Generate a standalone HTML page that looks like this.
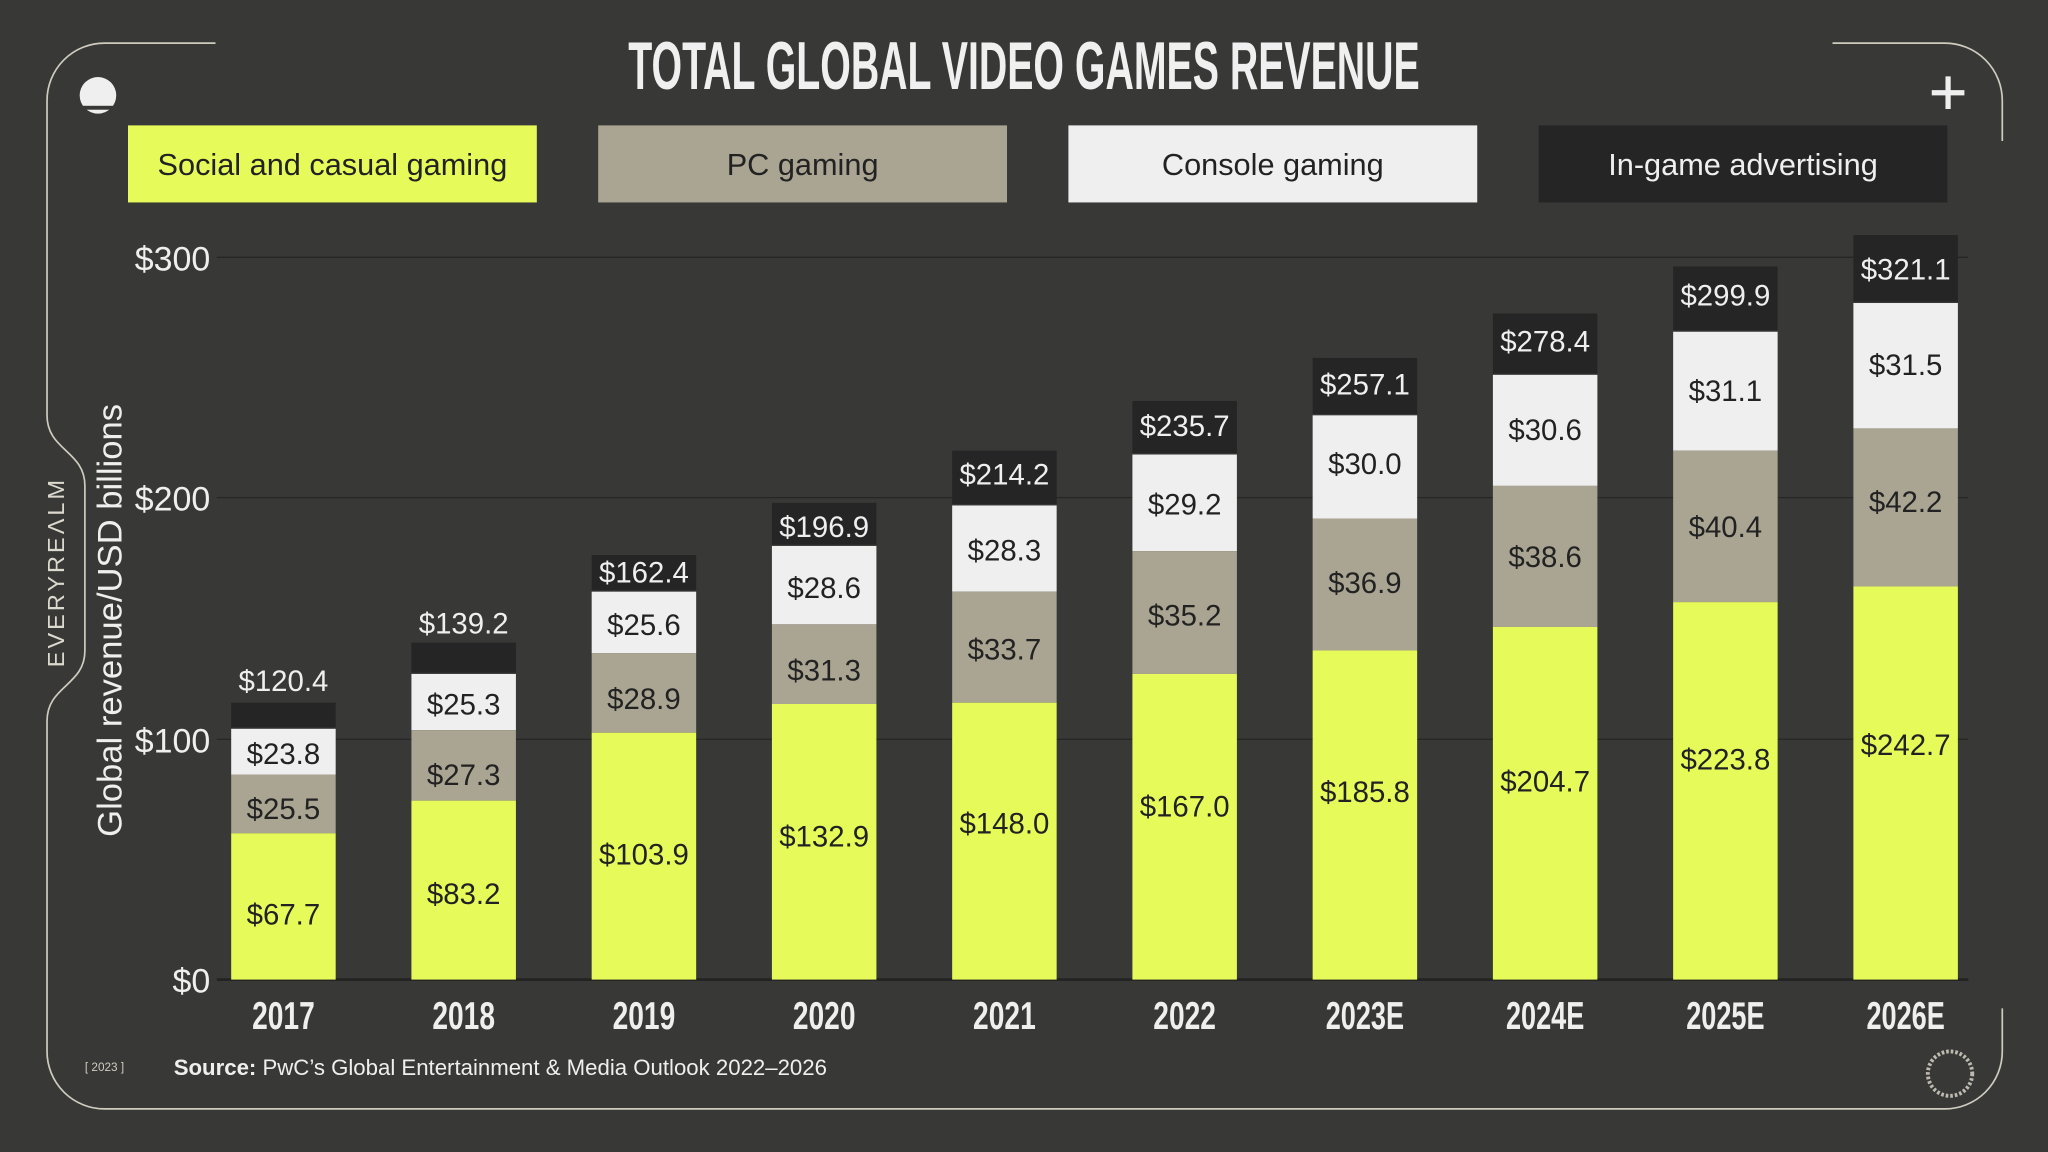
<!DOCTYPE html>
<html><head><meta charset="utf-8"><style>
html,body{margin:0;padding:0;background:#383838;}
svg{display:block}
</style></head><body>
<svg width="2048" height="1152" viewBox="0 0 1568 882" xmlns="http://www.w3.org/2000/svg" font-family="Liberation Sans, Arial, sans-serif">
<rect width="1568" height="882" fill="#383837"/>
<g fill="none" stroke="#cfccbf" stroke-width="1.3">
<path d="M165 33 H80 A44 44 0 0 0 36 77 V318 C36 345 65 345 65 372 V498 C65 525 36 525 36 552 V805 A44 44 0 0 0 80 849 H1489 A44 44 0 0 0 1533 805 V772"/>
<path d="M1403 33 H1489 A44 44 0 0 1 1533 77 V108"/>
</g>
<circle cx="75" cy="73" r="14" fill="#efefef"/>
<rect x="58" y="81" width="34" height="3" fill="#383837"/>
<path d="M1479 71 H1504 M1491.5 58.5 V83.5" stroke="#efefef" stroke-width="4"/>
<text x="784" y="68" text-anchor="middle" font-family="Liberation Sans Narrow, Liberation Sans, sans-serif" font-weight="bold" font-size="52" fill="#f0f0f0" textLength="606" lengthAdjust="spacingAndGlyphs">TOTAL GLOBAL VIDEO GAMES REVENUE</text>
<rect x="98" y="96" width="313" height="59" fill="#e6fb5a"/>
<text x="254.5" y="134" text-anchor="middle" font-size="23.5" fill="#222">Social and casual gaming</text>
<rect x="458" y="96" width="313" height="59" fill="#aaa592"/>
<text x="614.5" y="134" text-anchor="middle" font-size="23.5" fill="#222">PC gaming</text>
<rect x="818" y="96" width="313" height="59" fill="#efefef"/>
<text x="974.5" y="134" text-anchor="middle" font-size="23.5" fill="#222">Console gaming</text>
<rect x="1178" y="96" width="313" height="59" fill="#252525"/>
<text x="1334.5" y="134" text-anchor="middle" font-size="23.5" fill="#efefef">In-game advertising</text>
<g stroke="#262626" stroke-width="1">
<line x1="166" y1="197" x2="1507" y2="197"/>
<line x1="166" y1="381" x2="1507" y2="381"/>
<line x1="166" y1="566" x2="1507" y2="566"/>
</g>
<line x1="166" y1="750" x2="1507" y2="750" stroke="#222" stroke-width="2"/>
<g font-size="26" fill="#efefef" text-anchor="end">
<text x="161" y="207">$300</text>
<text x="161" y="391">$200</text>
<text x="161" y="576">$100</text>
<text x="161" y="760">$0</text>
</g>
<text transform="translate(93,475) rotate(-90)" text-anchor="middle" font-size="26.5" fill="#efefef">Global revenue/USD billions</text>
<text transform="translate(49,438) rotate(-90)" text-anchor="middle" font-size="18" letter-spacing="2.3" fill="#dcdacf">EVERYREΛLM</text>
<g id="bars" font-size="22.5" text-anchor="middle"></g>
<g font-family="Liberation Sans Narrow, Liberation Sans, sans-serif" font-weight="bold" font-size="30" fill="#efefef" text-anchor="middle" id="years"></g>
<text x="65" y="820" font-size="9" fill="#cfccbf">[ 2023 ]</text>
<text x="133" y="823" font-size="17" fill="#efefef"><tspan font-weight="bold">Source:</tspan> PwC’s Global Entertainment &amp; Media Outlook 2022–2026</text>
<circle cx="1493" cy="822" r="17" fill="none" stroke="#bdbab0" stroke-width="3" stroke-dasharray="2 1.5"/>
</svg>
<script>
const d=[
["2017",638,593,557,538,521,"$67.7","$25.5","$23.8","$120.4",700,619,577],
["2018",613,559,515,492,477,"$83.2","$27.3","$25.3","$139.2",684,593,539],
["2019",561,500,452,425,438,"$103.9","$28.9","$25.6","$162.4",654,535,478],
["2020",539,478,417,385,403,"$132.9","$31.3","$28.6","$196.9",640,513,450],
["2021",538,453,386,345,363,"$148.0","$33.7","$28.3","$214.2",630,497,421],
["2022",516,422,347,307,326,"$167.0","$35.2","$29.2","$235.7",617,471,386],
["2023E",498,397,317,274,294,"$185.8","$36.9","$30.0","$257.1",606,446,355],
["2024E",480,372,286,240,261,"$204.7","$38.6","$30.6","$278.4",598,426,329],
["2025E",461,345,253,204,226,"$223.8","$40.4","$31.1","$299.9",581,403,299],
["2026E",449,328,231,180,206,"$242.7","$42.2","$31.5","$321.1",570,384,279]];
const NS="http://www.w3.org/2000/svg";
const g=document.getElementById("bars"),yg=document.getElementById("years");
function r(x,y,w,h,f){const e=document.createElementNS(NS,"rect");e.setAttribute("x",x);e.setAttribute("y",y);e.setAttribute("width",w);e.setAttribute("height",h);e.setAttribute("fill",f);g.appendChild(e);}
function t(p,x,y,s,f,tl){const e=document.createElementNS(NS,"text");e.setAttribute("x",x);e.setAttribute("y",y);e.setAttribute("fill",f);if(tl){e.setAttribute("textLength",tl);e.setAttribute("lengthAdjust","spacingAndGlyphs");}e.textContent=s;p.appendChild(e);}
d.forEach((b,i)=>{const x=177+i*138,w=80,c=x+40;
r(x,b[4],w,b[3]-b[4],"#252525");
r(x,b[3]+1,w,b[2]-b[3]-1,"#efefef");
r(x,b[2],w,b[1]-b[2],"#aaa592");
r(x,b[1],w,750-b[1],"#e6fb5a");
t(g,c,b[10]+8,b[6],"#222");
t(g,c,b[11]+8,b[7],"#222");
t(g,c,b[12]+8,b[8],"#222");
t(g,c,b[5]+8,b[9],"#efefef");
t(yg,c,788,b[0],"#efefef",b[0].length>4?60:48);
});
</script>
</body></html>
